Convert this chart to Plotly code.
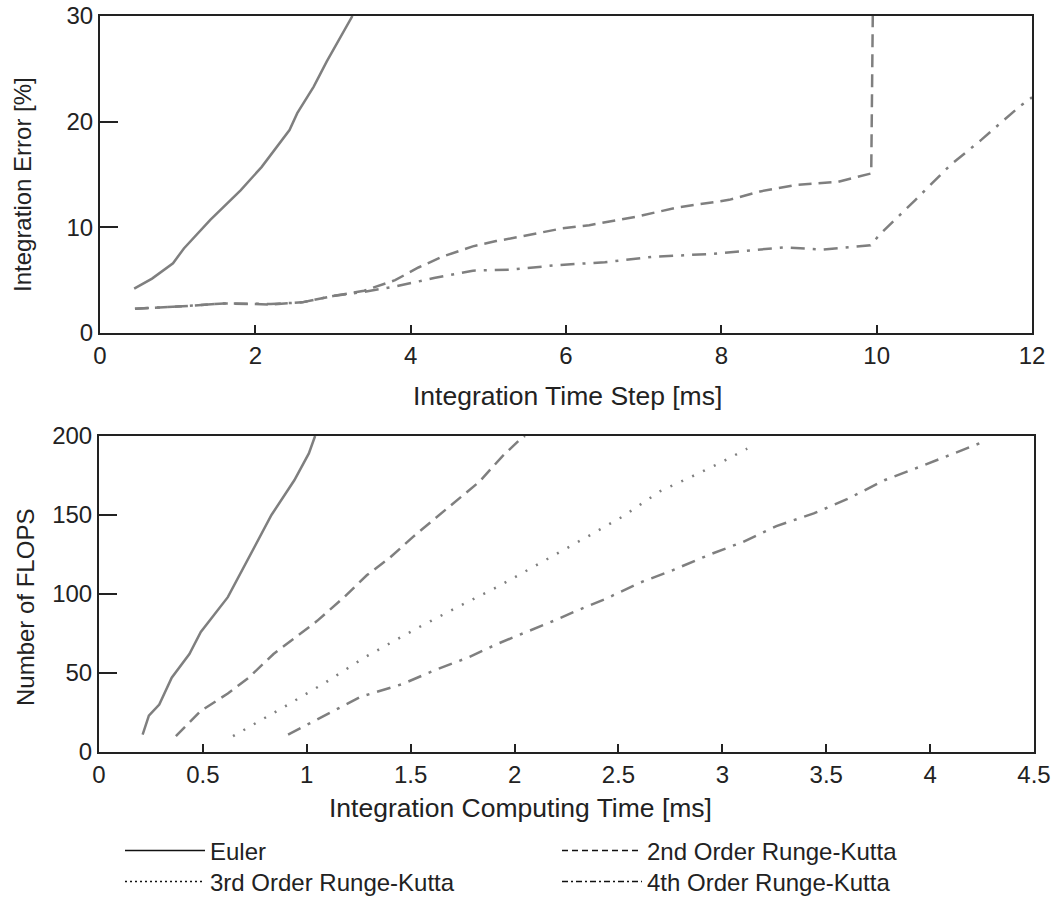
import plotly.graph_objects as go

# ---- Top panel: Integration error vs time step ----
euler_step = [0.44, 0.67, 0.94, 1.08, 1.42, 1.81, 2.08, 2.44, 2.54, 2.75, 2.92, 3.25]
euler_err = [4.2, 5.15, 6.6, 8.0, 10.7, 13.5, 15.7, 19.2, 20.8, 23.3, 25.7, 30.0]

rk2_step = [0.45, 1.0, 1.6, 2.2, 2.6, 3.0, 3.4, 3.8, 4.1, 4.4, 4.8, 5.1, 5.4, 5.95, 6.3,
            6.9, 7.45, 8.1, 8.5, 8.95, 9.5, 9.93, 9.95]
rk2_err = [2.3, 2.5, 2.8, 2.7, 2.9, 3.5, 4.0, 5.0, 6.2, 7.2, 8.2, 8.7, 9.1, 9.9, 10.2,
           11.0, 11.9, 12.6, 13.4, 14.0, 14.3, 15.1, 30.0]

rk4_step = [0.45, 1.0, 1.6, 2.2, 2.6, 3.0, 3.4, 3.8, 4.3, 4.8, 5.3, 5.85, 6.5, 7.1, 7.9,
            8.35, 8.8, 9.3, 9.92, 10.05, 10.5, 10.95, 11.35, 11.85, 12.0]
rk4_err = [2.3, 2.5, 2.8, 2.75, 2.9, 3.5, 3.9, 4.4, 5.2, 5.9, 6.0, 6.4, 6.7, 7.2, 7.5,
           7.8, 8.1, 7.9, 8.3, 9.4, 12.6, 15.9, 18.3, 21.5, 22.3]

# ---- Bottom panel: FLOPS vs computing time ----
euler_time = [0.21, 0.24, 0.29, 0.35, 0.435, 0.49, 0.62, 0.74, 0.83, 0.94, 1.01, 1.04]
euler_flops = [11, 23, 30, 47, 62, 76, 98, 128, 150, 172, 189, 200]

rk2_time = [0.37, 0.49, 0.62, 0.72, 0.84, 0.95, 1.05, 1.18, 1.29, 1.40, 1.51, 1.61,
            1.72, 1.83, 1.94, 2.02, 2.05]
rk2_flops = [10, 26, 37, 47, 62, 73, 83, 98, 112, 123, 136, 147, 159, 171, 187, 197, 200]

rk3_time = [0.645, 0.78, 0.91, 1.09, 1.28, 1.43, 1.54, 1.73, 1.91, 2.02, 2.2, 2.36,
            2.52, 2.70, 2.88, 2.99, 3.12]
rk3_flops = [10, 20, 30, 44, 60, 71, 79, 92, 104, 112, 125, 137, 149, 165, 176, 183, 192]

rk4_time = [0.91, 1.1, 1.26, 1.46, 1.62, 1.78, 1.91, 2.02, 2.17, 2.31, 2.44, 2.6, 2.76,
            2.94, 3.1, 3.26, 3.44, 3.6, 3.78, 3.96, 4.12, 4.25]
rk4_flops = [11, 24, 35, 43, 52, 60, 68, 74, 82, 90, 97, 107, 115, 125, 133, 143, 151,
             160, 172, 181, 189, 196]

names = ["Euler", "2nd Order Runge-Kutta", "3rd Order Runge-Kutta", "4th Order Runge-Kutta"]
top_x_ticks = [0, 2, 4, 6, 8, 10, 12]
top_y_ticks = [0, 10, 20, 30]
bot_x_ticks = [0, 0.5, 1, 1.5, 2, 2.5, 3, 3.5, 4, 4.5]
bot_y_ticks = [0, 50, 100, 150, 200]

GRAY = "#7f7f7f"
LW = 2.5
dash_styles = {"solid": "solid", "dash": "13px,7px", "dot": "2px,10px", "dashdot": "14px,8px,3px,8px"}
legend_dash = {"solid": "solid", "dash": "6px,4px", "dot": "2px,3px", "dashdot": "6px,3px,2px,3px"}
FONT = "Arial, Liberation Sans, sans-serif"
TXT = "#222222"

W, H = 1059, 899
def fx(p):
    return p / W
def fy(p):
    return 1 - p / H

fig = go.Figure()

def add(x, y, style, xa, ya):
    fig.add_trace(go.Scatter(x=x, y=y, mode="lines", xaxis=xa, yaxis=ya, showlegend=False,
                             line=dict(color=GRAY, width=LW, dash=dash_styles[style]),
                             hoverinfo="skip"))

add(euler_step, euler_err, "solid", "x", "y")
add(rk2_step, rk2_err, "dash", "x", "y")
add(rk4_step, rk4_err, "dashdot", "x", "y")

add(euler_time, euler_flops, "solid", "x2", "y2")
add(rk2_time, rk2_flops, "dash", "x2", "y2")
add(rk3_time, rk3_flops, "dot", "x2", "y2")
add(rk4_time, rk4_flops, "dashdot", "x2", "y2")

# legend entries (black, thin) -- one legend per entry so that they sit in a 2x2 grid
legend_ids = ["legend", "legend2", "legend3", "legend4"]
for name, style, lid in zip(names, ["solid", "dash", "dot", "dashdot"], legend_ids):
    fig.add_trace(go.Scatter(x=[None], y=[None], mode="lines", name=name, xaxis="x2", yaxis="y2",
                             legend=lid,
                             line=dict(color="#111111", width=1.5, dash=legend_dash[style])))

axis_common = dict(showline=True, linecolor=TXT, linewidth=2, mirror=True,
                   ticks="inside", tickcolor=TXT, tickwidth=2,
                   showgrid=False, zeroline=False, automargin=False,
                   tickfont=dict(family=FONT, size=24, color=TXT))

def leg(xp, yp):
    return dict(x=fx(xp), y=fy(yp), xanchor="left", yanchor="middle", orientation="v",
                font=dict(family=FONT, size=24, color=TXT), bgcolor="rgba(0,0,0,0)",
                borderwidth=0, itemwidth=80)

fig.update_layout(
    width=W, height=H,
    margin=dict(l=0, r=0, t=0, b=0, autoexpand=False),
    paper_bgcolor="white", plot_bgcolor="white",
    font=dict(family=FONT, color=TXT),
    xaxis=dict(domain=[fx(100), fx(1032)], range=[0, 12], tickvals=top_x_ticks,
               ticklen=8, anchor="y", **axis_common),
    yaxis=dict(domain=[fy(333), fy(16)], range=[0, 30], tickvals=top_y_ticks,
               ticklen=18, anchor="x", **axis_common),
    xaxis2=dict(domain=[fx(99), fx(1034)], range=[0, 4.5], tickvals=bot_x_ticks,
                ticklen=8, anchor="y2", **axis_common),
    yaxis2=dict(domain=[fy(752), fy(436)], range=[0, 200], tickvals=bot_y_ticks,
                ticklen=18, anchor="x2", **axis_common),
    legend=leg(120, 851),
    legend2=leg(557, 851),
    legend3=leg(120, 882),
    legend4=leg(557, 882),
    annotations=[
        dict(text="Integration Time Step [ms]", x=fx(567), y=fy(396), xref="paper", yref="paper",
             showarrow=False, xanchor="center", yanchor="middle",
             font=dict(family=FONT, size=26.5, color=TXT)),
        dict(text="Integration Error [%]", x=fx(22), y=fy(185), xref="paper", yref="paper",
             showarrow=False, xanchor="center", yanchor="middle", textangle=-90,
             font=dict(family=FONT, size=24, color=TXT)),
        dict(text="Integration Computing Time [ms]", x=fx(520), y=fy(808), xref="paper", yref="paper",
             showarrow=False, xanchor="center", yanchor="middle",
             font=dict(family=FONT, size=26.5, color=TXT)),
        dict(text="Number of FLOPS", x=fx(25), y=fy(608), xref="paper", yref="paper",
             showarrow=False, xanchor="center", yanchor="middle", textangle=-90,
             font=dict(family=FONT, size=24, color=TXT)),
    ],
)

fig.write_html("out.html")
